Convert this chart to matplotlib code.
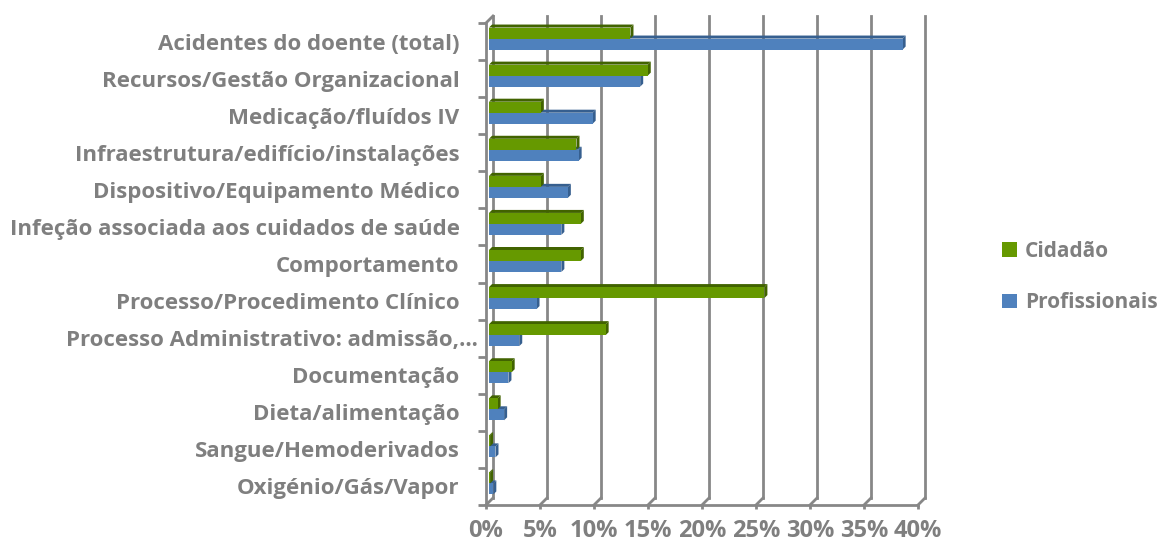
import numpy as np
import matplotlib
matplotlib.use('Agg')
import matplotlib.pyplot as plt
import matplotlib.transforms as mtransforms
from matplotlib.patches import Polygon, Patch

# data (percent)
categories = ['Acidentes do doente (total)', 'Recursos/Gestão Organizacional',
              'Medicação/fluídos IV', 'Infraestrutura/edifício/instalações',
              'Dispositivo/Equipamento Médico', 'Infeção associada aos cuidados de saúde',
              'Comportamento', 'Processo/Procedimento Clínico',
              'Processo Administrativo: admissão,…', 'Documentação',
              'Dieta/alimentação', 'Sangue/Hemoderivados', 'Oxigénio/Gás/Vapor']
cidadao = [13.1, 14.7, 4.8, 8.1, 4.8, 8.5, 8.5, 25.5, 10.8, 2.1, 0.8, 0.1, 0.1]
profissionais = [38.3, 14.0, 9.6, 8.3, 7.3, 6.7, 6.7, 4.4, 2.8, 1.8, 1.4, 0.6, 0.4]
xticks = [0, 5, 10, 15, 20, 25, 30, 35, 40]

GREEN = '#669900'
GREEN_DK = '#416300'
BLUE = '#4F81BD'
BLUE_DK = '#365F8F'
GRID = '#878787'
TXT = '#7F7F7F'
plt.rcParams['font.family'] = ['Open Sans', 'DejaVu Sans']
FS = 16

W, H = 1164, 546
fig = plt.figure(figsize=(W / 100, H / 100), dpi=100)
# front frame in pixels: x 486..918, y 23..505 (from top)
ax = fig.add_axes([486 / W, (H - 505) / H, 432 / W, 482 / H])
n = len(categories)
ax.set_xlim(0, 40)
ax.set_ylim(n - 0.5, -0.5)

px_x = 432 / 40.0      # pixels per percent
px_y = 482 / float(n)  # pixels per category

# back wall offset (3D depth)
dX = 7 / px_x
dY = 7 / px_y
ybot, ytop = n - 0.5, -0.5

# gridlines on back wall + floor slants
for x in xticks:
    ax.plot([x + dX, x + dX], [ybot - dY, ytop - dY], color=GRID, lw=2, clip_on=False, zorder=1)
    ax.plot([x, x + dX], [ybot, ybot - dY], color=GRID, lw=2, clip_on=False, zorder=1)
# top slant of left wall
ax.plot([0, dX], [ytop, ytop - dY], color=GRID, lw=2, clip_on=False, zorder=1)

# bars, sitting half way in depth
ox = 3 / px_x
oy = 3 / px_y
h = 11 / px_y
bd = 3  # bar depth pixels
bdx, bdy = bd / px_x, bd / px_y
y = np.arange(n)


def draw_bars(vals, yc, face, dark, z):
    for v, c in zip(vals, yc):
        t = c - h / 2
        b = c + h / 2
        l, r = ox, ox + v
        top = Polygon([(l, t), (r, t), (r + bdx, t - bdy), (l + bdx, t - bdy)],
                      closed=True, facecolor=dark, edgecolor='none', zorder=z)
        side = Polygon([(r, t), (r, b), (r + bdx, b - bdy), (r + bdx, t - bdy)],
                       closed=True, facecolor=dark, edgecolor='none', zorder=z)
        ax.add_patch(top)
        ax.add_patch(side)
    ax.barh(yc, vals, height=h, left=ox, color=face, edgecolor='none', zorder=z + 0.5)


draw_bars(profissionais, y + h / 2 - oy, BLUE, BLUE_DK, 3)
draw_bars(cidadao, y - h / 2 - oy, GREEN, GREEN_DK, 4)

# axes styling
for s in ['top', 'right']:
    ax.spines[s].set_visible(False)
for s in ['left', 'bottom']:
    ax.spines[s].set_color(GRID)
    ax.spines[s].set_linewidth(2)

ax.set_xticks(xticks)
ax.set_xticklabels(['%d%%' % t for t in xticks])
ax.tick_params(axis='x', length=3, width=2, color=GRID, pad=7,
               labelsize=17, labelcolor=TXT)
for lab in ax.get_xticklabels():
    lab.set_fontweight('bold')

ax.set_yticks(np.arange(n + 1) - 0.5)
ax.set_yticklabels([])
ax.tick_params(axis='y', which='major', length=6, width=2, color=GRID)
ax.set_yticks(y, minor=True)
ax.set_yticklabels(categories, minor=True)
ax.tick_params(axis='y', which='minor', length=0, pad=19, labelsize=FS, labelcolor=TXT)
for lab in ax.get_yticklabels(minor=True):
    lab.set_fontweight('bold')
    if lab.get_text().endswith('…'):
        # truncated label runs closer to the axis
        lab.set_transform(lab.get_transform() +
                          mtransforms.ScaledTranslation(18 / 100, 0, fig.dpi_scale_trans))

handles = [Patch(facecolor=GREEN, label='Cidadão'), Patch(facecolor=BLUE, label='Profissionais')]
leg = fig.legend(handles=handles, loc='center left', bbox_to_anchor=(1002 / W, 1 - 277 / H),
                 frameon=False, borderpad=0, borderaxespad=0,
                 handlelength=0.7, handleheight=0.7, handletextpad=0.4,
                 labelspacing=1.45, prop={'size': 15, 'weight': 'bold'})
for t in leg.get_texts():
    t.set_color(TXT)

fig.savefig('out.png', dpi=100)
